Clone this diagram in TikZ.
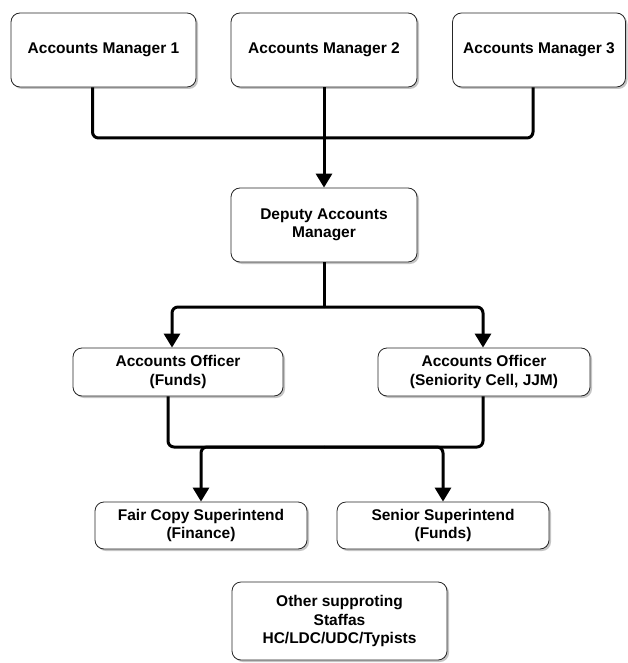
\documentclass[tikz,border=0pt]{standalone}
\usepackage{fontspec}
\setmainfont{Liberation Sans}
\usetikzlibrary{shadows,arrows.meta,calc}
\begin{document}
\begin{tikzpicture}[x=1pt,y=-1pt,
  box/.style={draw=black!85,line width=0.8pt,rounded corners=9pt,fill=white,
    drop shadow={shadow xshift=2pt,shadow yshift=-2pt,fill=black!45,opacity=0.5},
    align=center,font=\bfseries\fontsize{15.5}{18.5}\selectfont,inner sep=2pt},
  conn/.style={line width=3pt,rounded corners=6pt,-{Triangle[length=14pt,width=16pt]}},
  line/.style={line width=3pt,rounded corners=6pt}]
\useasboundingbox (0,0) rectangle (627,663);
\node[box,minimum width=185pt,minimum height=74pt] (am1) at (103.5,50) {Accounts Manager 1};
\node[box,minimum width=186pt,minimum height=74pt] (am2) at (324,50) {Accounts Manager 2};
\node[box,minimum width=173pt,minimum height=74pt] (am3) at (539,50) {Accounts Manager 3};
\node[box,minimum width=186pt,minimum height=74pt] (dam) at (324,225) {Deputy Accounts\\Manager};
\node[box,minimum width=210pt,minimum height=48pt] (ao1) at (178,372) {Accounts Officer\\(Funds)};
\node[box,minimum width=212pt,minimum height=48pt] (ao2) at (484,372) {Accounts Officer\\(Seniority Cell, JJM)};
\node[box,minimum width=212pt,minimum height=47pt] (fcs) at (201,525.5) {Fair Copy Superintend\\(Finance)};
\node[box,minimum width=212pt,minimum height=47pt] (ss) at (443,525.5) {Senior Superintend\\(Funds)};
\node[box,minimum width=215pt,minimum height=78pt] (oth) at (339.5,621) {Other supproting\\Staffas\\HC/LDC/UDC/Typists};
% top merge
\coordinate (m1) at (324,138);
\draw[line] ($(am1.south)+(-11,0)$) |- (m1);
\draw[line] ($(am3.south)+(-6,0)$) |- (m1);
\draw[conn] (am2.south) -- (dam.north);
% deputy split
\coordinate (m2) at (324,307);
\draw[line] (dam.south) -- (m2);
\draw[conn] (m2) -| ($(ao1.north)+(-6,0)$);
\draw[conn] (m2) -| ($(ao2.north)+(-1,0)$);
% officers merge
\coordinate (m3) at (324,447);
\draw[line] ($(ao1.south)+(-10,0)$) |- (m3);
\draw[line] ($(ao2.south)+(-1,0)$) |- (m3);
\draw[conn] (m3) -| (fcs.north);
\draw[conn] (m3) -| (ss.north);
\end{tikzpicture}
\end{document}
